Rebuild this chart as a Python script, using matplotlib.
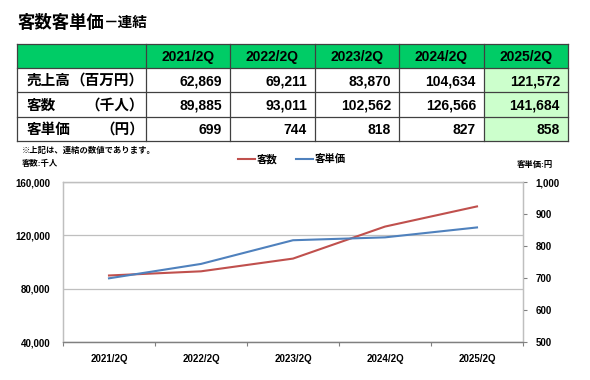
import matplotlib.pyplot as plt
from matplotlib.patches import Rectangle
from matplotlib.ticker import FuncFormatter, MultipleLocator

plt.rcParams['font.family'] = ['Liberation Sans', 'Noto Sans CJK JP']

# --- data ---
periods = ['2021/2Q', '2022/2Q', '2023/2Q', '2024/2Q', '2025/2Q']
sales = [62869, 69211, 83870, 104634, 121572]          # 百万円
customers = [89885, 93011, 102562, 126566, 141684]     # 千人
unit_price = [699, 744, 818, 827, 858]                 # 円
row_names = ['売上高', '客数', '客単価']
row_units = ['（百万円）', '（千人）', '（円）']

RED = '#C0504D'
BLUE = '#4F81BD'
GREEN = '#00CC66'
LIGHT_GREEN = '#CCFFCC'
GRID = '#BFBFBF'

W, H = 590, 380
fig = plt.figure(figsize=(W / 100, H / 100), dpi=100)

# background axes in pixel coordinates (table + captions)
bg = fig.add_axes([0, 0, 1, 1])
bg.set_xlim(0, W)
bg.set_ylim(H, 0)
bg.axis('off')

bg.text(18, 22, '客数客単価', fontsize=12.5, fontweight='bold', va='center', ha='left')
bg.text(104, 23, '－連結', fontsize=10.5, fontweight='bold', va='center', ha='left')

# table
col_x = [17, 146, 230, 315, 399, 484, 568]
row_y = [44, 68, 92, 117, 141]
rows = [sales, customers, unit_price]

bg.add_patch(Rectangle((col_x[0], row_y[0]), col_x[-1] - col_x[0], row_y[1] - row_y[0],
                       facecolor=GREEN, edgecolor='none'))
bg.add_patch(Rectangle((col_x[5], row_y[1]), col_x[6] - col_x[5], row_y[-1] - row_y[1],
                       facecolor=LIGHT_GREEN, edgecolor='none'))
for y in row_y:
    bg.plot([col_x[0], col_x[-1]], [y, y], color='#404040', lw=0.9)
for x in col_x:
    bg.plot([x, x], [row_y[0], row_y[-1]], color='#404040', lw=0.9)

for j, p in enumerate(periods):
    cx = (col_x[j + 1] + col_x[j + 2]) / 2
    bg.text(cx, (row_y[0] + row_y[1]) / 2 + 1, p, fontsize=10, fontweight='bold',
            ha='center', va='center')

for i, (name, unit, vals) in enumerate(zip(row_names, row_units, rows)):
    cy = (row_y[i + 1] + row_y[i + 2]) / 2 + 1
    bg.text(27, cy, name, fontsize=10.5, fontweight='bold', ha='left', va='center')
    bg.text(144, cy, unit, fontsize=10.5, fontweight='bold', ha='right', va='center')
    for j, v in enumerate(vals):
        bg.text(col_x[j + 2] - 8, cy, f'{v:,}', fontsize=10, fontweight='bold',
                ha='right', va='center')

bg.text(22, 151, '※上記は、連結の数値であります。', fontsize=6, fontweight='bold',
        ha='left', va='center')
bg.text(22, 164, '客数:千人', fontsize=6, fontweight='bold', ha='left', va='center')
bg.text(517, 165, '客単価:円', fontsize=6, fontweight='bold', ha='left', va='center')

# chart
ax = fig.add_axes([63 / W, (H - 342) / H, 460 / W, 160 / H])
ax2 = ax.twinx()
x = range(len(periods))

l1, = ax.plot(x, customers, color=RED, lw=1.5, label='客数', zorder=3)
l2, = ax2.plot(x, unit_price, color=BLUE, lw=1.5, label='客単価', zorder=3)

ax.set_xlim(-0.5, len(periods) - 0.5)
ax.set_ylim(40000, 160000)
ax.yaxis.set_major_locator(MultipleLocator(40000))
ax.yaxis.set_major_formatter(FuncFormatter(lambda v, _: f'{int(v):,}'))
ax2.set_ylim(500, 1000)
ax2.yaxis.set_major_locator(MultipleLocator(100))
ax2.yaxis.set_major_formatter(FuncFormatter(lambda v, _: f'{int(v):,}'))

ax.set_xticks(list(x))
ax.set_xticklabels(periods)
ax.set_xticks([i - 0.5 for i in range(len(periods) + 1)], minor=True)
ax.tick_params(axis='x', which='major', length=0, pad=9, labelsize=7)
ax.tick_params(axis='x', which='minor', length=3, color='#808080', width=0.8)
ax.tick_params(axis='y', length=0, pad=9, labelsize=7)
ax2.tick_params(axis='y', length=3, color='#808080', width=0.8, pad=6, labelsize=7)
for a in (ax, ax2):
    for lab in a.get_xticklabels() + a.get_yticklabels():
        lab.set_fontweight('bold')

ax.grid(axis='y', color=GRID, lw=0.9)
ax.set_axisbelow(True)
for a in (ax, ax2):
    for s in a.spines.values():
        s.set_color(GRID)
        s.set_linewidth(0.9)
    a.spines['bottom'].set_color('#808080')

fig.legend(handles=[l1, l2], loc='center', bbox_to_anchor=(292 / W, 1 - 159 / H),
           ncol=2, frameon=False, handlelength=1.6, handletextpad=0.2,
           columnspacing=1.8, prop={'size': 7.5, 'weight': 'bold'})

fig.savefig('out.png', dpi=100)
